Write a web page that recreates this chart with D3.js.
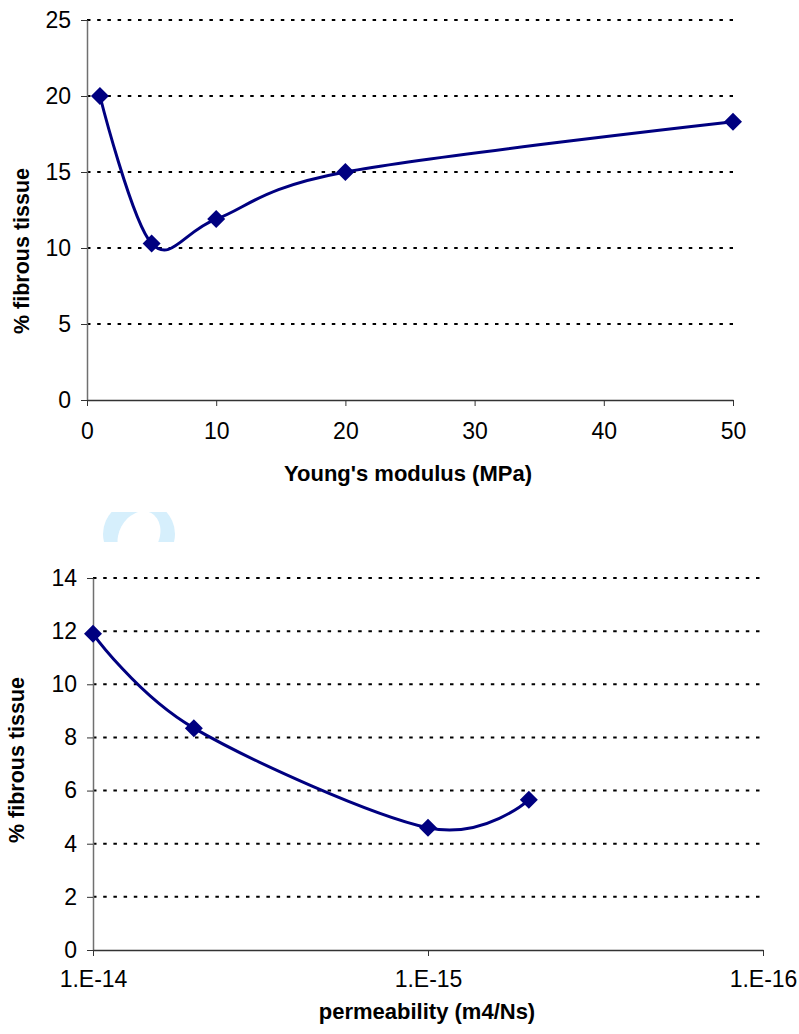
<!DOCTYPE html>
<html>
<head>
<meta charset="utf-8">
<script src="https://cdn.jsdelivr.net/npm/d3@7"></script>
<style>
  body { margin: 0; background: #fff; }
  text { font-family: Arial, "Liberation Sans", sans-serif; fill: #000; }
</style>
</head>
<body>
<div id="app"></div>
<script>
// Top chart: Young's modulus
const youngX = [1, 5, 10, 20, 50]
const youngY = [20, 10.3, 11.9, 15, 18.3]
const youngTicksX = [0, 10, 20, 30, 40, 50]
const youngTicksY = [0, 5, 10, 15, 20, 25]

// Bottom chart: permeability (log axis, reversed)
const permX = [1e-14, 5e-15, 1e-15, 5e-16]
const permY = [11.9, 8.35, 4.6, 5.65]
const permTicksX = [1e-14, 1e-15, 1e-16]
const permTickLabels = ["1.E-14", "1.E-15", "1.E-16"]
const permTicksY = [0, 2, 4, 6, 8, 10, 12, 14]

const width = 799
const height = 1034
const navy = "#000080"

const svg = d3.select("#app").append("svg")
  .attr("width", width)
  .attr("height", height)

// light blue ring left over between the two charts
const defs = svg.append("defs")
defs.append("clipPath").attr("id", "ringClip")
  .append("rect").attr("x", 90).attr("y", 512).attr("width", 100).attr("height", 30)
const ring = svg.append("g").attr("clip-path", "url(#ringClip)")
ring.append("ellipse").attr("cx", 139).attr("cy", 534).attr("rx", 36).attr("ry", 34).attr("fill", "#d6effc")
ring.append("ellipse").attr("cx", 139).attr("cy", 536).attr("rx", 20).attr("ry", 26)
  .attr("transform", "rotate(28,139,536)").attr("fill", "#fff")

function drawChart(o) {
  const g = svg.append("g")
  const [x0, x1] = o.x.range()
  const [y0, y1] = o.y.range()

  // dotted gridlines
  g.append("g").selectAll("line")
    .data(o.ticksY.filter(d => d > 0))
    .join("line")
    .attr("x1", x0).attr("x2", x1)
    .attr("y1", d => o.y(d)).attr("y2", d => o.y(d))
    .attr("stroke", "#000")
    .attr("stroke-width", 2)
    .attr("stroke-dasharray", "3.5,6.7")

  // y axis
  const ya = g.append("g")
    .attr("transform", `translate(${x0},0)`)
    .call(d3.axisLeft(o.y).tickValues(o.ticksY).tickSize(6).tickSizeOuter(0).tickPadding(10))
  ya.select(".domain").attr("stroke", "#707070").attr("stroke-width", 1.5)
  ya.selectAll(".tick line").attr("stroke", "#333")
  ya.selectAll("text").style("font-size", "23px").attr("fill", "#000")

  // x axis
  const xa = g.append("g")
    .attr("transform", `translate(0,${y0})`)
    .call(d3.axisBottom(o.x).tickValues(o.ticksX).tickFormat(o.format).tickSize(6).tickSizeOuter(0).tickPadding(o.xPad))
  xa.select(".domain").attr("stroke", "#333").attr("stroke-width", 1.5)
  xa.selectAll(".tick line").attr("stroke", "#333")
  xa.selectAll("text").style("font-size", "23px").attr("fill", "#000")

  // axis titles
  g.append("text")
    .attr("x", o.xTitlePos[0]).attr("y", o.xTitlePos[1])
    .attr("text-anchor", "middle")
    .style("font-size", "22px").style("font-weight", "bold")
    .text(o.xTitle)
  g.append("text")
    .attr("transform", `translate(${o.yTitlePos[0]},${o.yTitlePos[1]}) rotate(-90)`)
    .attr("text-anchor", "middle")
    .attr("dominant-baseline", "central")
    .style("font-size", "21.5px").style("font-weight", "bold")
    .text("% fibrous tissue")

  // smoothed line + diamond markers
  const pts = o.xs.map((d, i) => ({ x: d, y: o.ys[i] }))
  const line = d3.line()
    .x(d => o.x(d.x))
    .y(d => o.y(d.y))
    .curve(d3.curveCardinal.tension(0))
  g.append("path").datum(pts)
    .attr("d", line)
    .attr("fill", "none")
    .attr("stroke", navy)
    .attr("stroke-width", 3)
  g.append("g").selectAll("path")
    .data(pts)
    .join("path")
    .attr("transform", d => `translate(${o.x(d.x)},${o.y(d.y)})`)
    .attr("d", "M0,-9L9,0L0,9L-9,0Z")
    .attr("fill", navy)
}

drawChart({
  x: d3.scaleLinear().domain([0, 50]).range([87, 733]),
  y: d3.scaleLinear().domain([0, 25]).range([400, 20]),
  xs: youngX, ys: youngY,
  ticksX: youngTicksX, ticksY: youngTicksY,
  format: d3.format("d"), xPad: 17,
  xTitle: "Young's modulus (MPa)", xTitlePos: [408, 481],
  yTitlePos: [22, 251]
})

drawChart({
  x: d3.scaleLog().domain([1e-14, 1e-16]).range([93, 763]),
  y: d3.scaleLinear().domain([0, 14]).range([950, 578]),
  xs: permX, ys: permY,
  ticksX: permTicksX, ticksY: permTicksY,
  format: (d, i) => permTickLabels[i], xPad: 15,
  xTitle: "permeability (m4/Ns)", xTitlePos: [427, 1019],
  yTitlePos: [17, 760]
})
</script>
</body>
</html>
